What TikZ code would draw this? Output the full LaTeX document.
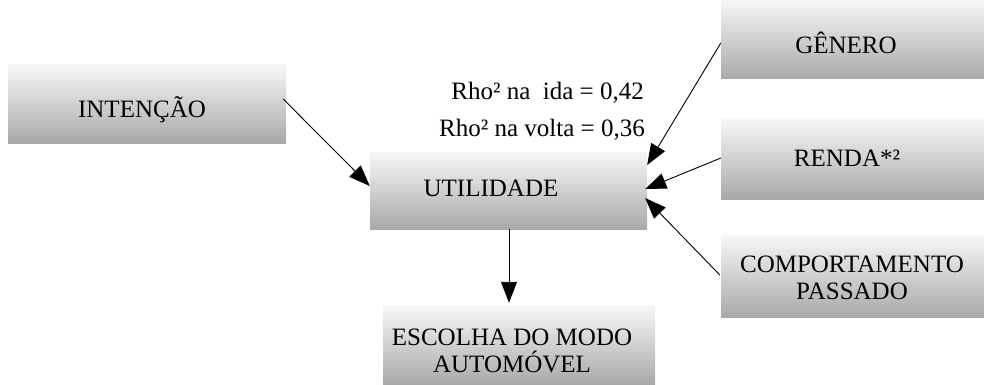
\documentclass[tikz,border=0pt]{standalone}
\usepackage{fontspec}
\setmainfont{Liberation Serif}
\usetikzlibrary{arrows.meta,calc}
\begin{document}
\begin{tikzpicture}[x=1pt,y=-1pt,
  box/.style={rectangle, inner sep=0pt, top color=gray!6, bottom color=gray!68, draw=none},
  lbl/.style={inner sep=0pt, font=\fontsize{25}{29}\selectfont, align=center},
  conn/.style={line width=0.9pt, -{Triangle[length=21pt,width=16pt]}}]
\useasboundingbox (0,0) rectangle (984,385);
% boxes
\node[box, minimum width=278pt, minimum height=78pt] (int) at (147,104) {};
\node[box, minimum width=277pt, minimum height=77pt] (util) at (508.5,190.5) {};
\node[box, minimum width=263pt, minimum height=79pt] (gen) at (852.5,39.5) {};
\node[box, minimum width=263pt, minimum height=80pt] (renda) at (852.5,159) {};
\node[box, minimum width=263pt, minimum height=82pt] (comp) at (852.5,276) {};
\node[box, minimum width=272pt, minimum height=80pt] (esc) at (519,345) {};
% labels
\node[lbl] (tint) at (142,110) {INTENÇÃO};
\node[lbl] (tutil) at (491,188) {UTILIDADE};
\node[lbl] (tgen) at (846,43) {GÊNERO};
\node[lbl] (trenda) at (847,158) {RENDA*²};
\node[lbl] (tcomp) at (852,278) {COMPORTAMENTO\\[-2pt]PASSADO};
\node[lbl] (tesc) at (512,351) {ESCOLHA DO MODO\\[-2pt]AUTOMÓVEL};
\node[lbl, anchor=east] (rho1) at (644,93) {Rho² na~~ida = 0,42};
\node[lbl, anchor=east] (rho2) at (645,130) {Rho² na volta = 0,36};
% connectors
\draw[conn] ($(int.east)+(-3,-5)$) -- ($(util.west)+(0,-4.5)$);
\draw[conn] ($(gen.west)+(0,3.5)$) -- ($(util.east)+(0,-25.5)$);
\draw[conn] ($(renda.west)+(0,-1)$) -- ($(util.east)+(-2,-1.5)$);
\draw[conn] ($(comp.west)+(-1,-1)$) -- ($(util.east)+(-2,7.5)$);
\draw[conn] (util.south -| 509,0) -- ($(esc.north -| 509,0)+(0,-2)$);
\end{tikzpicture}
\end{document}
